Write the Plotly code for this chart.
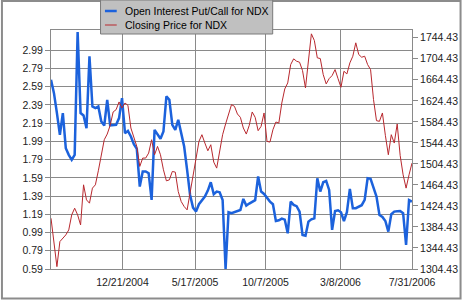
import pandas as pd
import plotly.graph_objects as go

# x categories: trading-date grid (every 6 days) ending 7/31/2006
dates = pd.date_range(end="2006-07-31", periods=123, freq="6D")

put_call = [
    2.667, 2.520, 2.301, 2.063, 2.301, 1.916, 1.843, 1.788, 1.843, 3.191,
    2.301, 2.275, 2.136, 2.923, 2.374, 2.356, 2.374, 2.209, 2.165, 2.447,
    2.165, 2.172, 2.172, 2.246, 2.465, 2.081, 2.106, 2.044, 1.960, 1.909,
    1.495, 1.660, 1.660, 1.641, 1.348, 2.117, 2.070, 2.019, 2.099, 2.484,
    2.447, 2.172, 2.117, 2.227, 2.081, 1.934, 1.678, 1.403, 1.264, 1.220,
    1.301, 1.337, 1.385, 1.451, 1.542, 1.411, 1.440, 1.432, 1.348, 0.590,
    1.213, 1.202, 1.213, 1.227, 1.238, 1.359, 1.286, 1.308, 1.326, 1.345,
    1.605, 1.440, 1.414, 1.367, 1.330, 1.301, 1.117, 1.125, 1.143, 1.132,
    0.982, 1.330, 1.293, 1.279, 1.220, 0.964, 0.956, 1.110, 1.136, 1.147,
    1.586, 1.440, 1.542, 1.557, 1.458, 1.019, 1.227, 1.235, 1.213, 1.117,
    1.213, 1.469, 1.257, 1.257, 1.271, 1.290, 1.348, 1.586, 1.579, 1.484,
    1.385, 1.183, 1.161, 1.117, 1.000, 1.191, 1.220, 1.224, 1.227, 1.202,
    0.854, 1.348, 1.330,
]

close_price = [
    1401.0, 1350.2, 1308.9, 1356.6, 1362.9, 1369.3, 1378.8, 1407.4, 1420.1, 1407.4,
    1388.3, 1464.6, 1436.0, 1429.7, 1458.3, 1464.6, 1491.3, 1523.1, 1550.4, 1561.2,
    1577.8, 1603.2, 1607.6, 1622.3, 1610.8, 1620.3, 1615.9, 1572.7, 1553.6, 1537.7,
    1499.6, 1515.5, 1515.5, 1525.0, 1550.4, 1521.8, 1537.7, 1521.8, 1493.2, 1472.2,
    1474.1, 1490.0, 1488.8, 1451.9, 1432.8, 1423.3, 1416.9, 1446.8, 1478.6, 1514.2,
    1547.2, 1560.0, 1544.1, 1529.4, 1540.9, 1507.8, 1496.4, 1525.0, 1560.0, 1580.3,
    1599.4, 1617.2, 1614.0, 1599.4, 1593.0, 1572.7, 1561.2, 1577.8, 1603.2, 1593.0,
    1567.6, 1575.8, 1601.3, 1547.2, 1546.0, 1569.5, 1584.1, 1582.2, 1620.3, 1647.0,
    1658.5, 1693.4, 1704.3, 1699.8, 1697.9, 1682.0, 1649.0, 1696.6, 1751.9, 1739.2,
    1706.2, 1704.9, 1674.4, 1656.6, 1666.7, 1672.5, 1683.9, 1666.7, 1650.2, 1680.7,
    1675.6, 1696.6, 1709.3, 1734.8, 1712.5, 1707.4, 1709.3, 1693.4, 1683.9, 1626.7,
    1586.7, 1585.4, 1601.3, 1558.7, 1521.8, 1560.0, 1544.1, 1580.3, 1520.5, 1483.7,
    1458.3, 1483.7, 1505.9,
]

x_tick_dates = ["2004-12-21", "2005-05-17", "2005-10-07", "2006-03-08", "2006-07-31"]
x_tick_text = ["12/21/2004", "5/17/2005", "10/7/2005", "3/8/2006", "7/31/2006"]
left_ticks = [0.59, 0.79, 0.99, 1.19, 1.39, 1.59, 1.79, 1.99, 2.19, 2.39, 2.59, 2.79, 2.99]
right_ticks = [1304.43, 1344.43, 1384.43, 1424.43, 1464.43, 1504.43, 1544.43,
               1584.43, 1624.43, 1664.43, 1704.43, 1744.43]
series_names = ["Open Interest Put/Call for NDX", "Closing Price for NDX"]

BLUE = "#1c62dc"
RED = "#b8282e"
GRID = "#8a8a8a"
FONT = "Liberation Sans, Arial, sans-serif"

W, H = 470, 300
ML, MR, MT, MB = 51, 51, 30, 31
PW, PH = W - ML - MR, H - MT - MB


def px(x):
    return (x - ML) / PW


def py(y):
    return (H - MB - y) / PH


fig = go.Figure()
fig.add_trace(go.Scatter(x=dates, y=put_call, mode="lines", name=series_names[0],
                         line=dict(color=BLUE, width=2.5), yaxis="y", showlegend=False))
fig.add_trace(go.Scatter(x=dates, y=close_price, mode="lines", name=series_names[1],
                         line=dict(color=RED, width=1), yaxis="y2", showlegend=False))

axis_font = dict(family=FONT, size=10.5, color="#222222")

fig.update_layout(
    width=W, height=H,
    margin=dict(l=ML, r=MR, t=MT, b=MB, pad=0),
    paper_bgcolor="white", plot_bgcolor="white",
    font=axis_font,
    xaxis=dict(type="date", range=[dates[0], dates[-1]],
               tickvals=x_tick_dates, ticktext=x_tick_text,
               showgrid=True, gridcolor=GRID, gridwidth=1,
               showline=True, linecolor=GRID, linewidth=1, mirror=True,
               ticks="outside", ticklen=3, tickcolor="white",
               tickfont=axis_font, zeroline=False),
    yaxis=dict(range=[0.59, 3.213], tickvals=left_ticks,
               ticktext=[f"{v:.2f}" for v in left_ticks],
               showgrid=True, gridcolor=GRID, gridwidth=1,
               showline=True, linecolor=GRID, linewidth=1, mirror=True,
               ticks="outside", ticklen=5, tickcolor=GRID,
               tickfont=axis_font, zeroline=False),
    yaxis2=dict(range=[1304.43, 1759.2], tickvals=right_ticks,
                ticktext=[f"{v:.2f}" for v in right_ticks],
                overlaying="y", side="right", showgrid=False,
                showline=False, ticks="outside", ticklen=5, tickcolor=GRID,
                tickfont=axis_font, zeroline=False),
)

shapes = [
    # outer frame
    dict(type="rect", xref="paper", yref="paper",
         x0=px(1), x1=px(468.5), y0=py(298.5), y1=py(1),
         line=dict(color="#8c8c8c", width=2), fillcolor="rgba(0,0,0,0)", layer="above"),
    # legend box
    dict(type="rect", xref="paper", yref="paper",
         x0=px(101.5), x1=px(277), y0=py(34), y1=py(0),
         line=dict(color="#7a7a7a", width=1), fillcolor="#c0c0c0", layer="above"),
    dict(type="line", xref="paper", yref="paper",
         x0=px(106), x1=px(118), y0=py(11), y1=py(11),
         line=dict(color=BLUE, width=2.5), layer="above"),
    dict(type="line", xref="paper", yref="paper",
         x0=px(106), x1=px(118), y0=py(25), y1=py(25),
         line=dict(color=RED, width=1), layer="above"),
]
annotations = [
    dict(text=series_names[0], xref="paper", yref="paper", x=px(124), y=py(11),
         xanchor="left", yanchor="middle", showarrow=False,
         font=dict(family=FONT, size=10.5, color="black")),
    dict(text=series_names[1], xref="paper", yref="paper", x=px(124), y=py(25),
         xanchor="left", yanchor="middle", showarrow=False,
         font=dict(family=FONT, size=10.5, color="black")),
]
fig.update_layout(shapes=shapes, annotations=annotations)

fig.write_html("out.html")
